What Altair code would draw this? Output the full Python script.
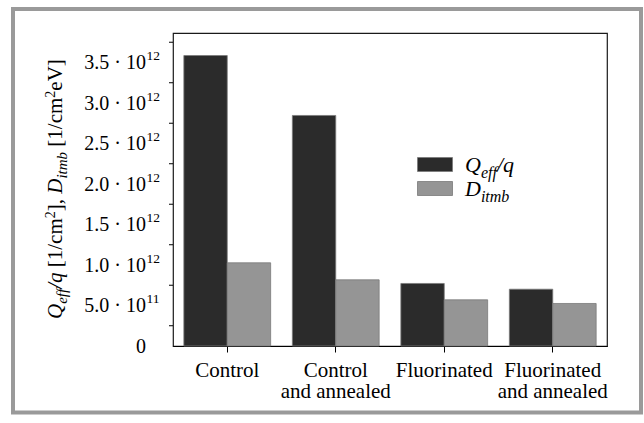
import altair as alt
import pandas as pd

# ---------------- data ----------------
categories = ["Control", "Control\nand annealed", "Fluorinated", "Fluorinated\nand annealed"]
series = ["Qeff/q", "Ditmb"]
q_values = [3.586e12, 2.846e12, 0.772e12, 0.701e12]
d_values = [1.027e12, 0.817e12, 0.570e12, 0.525e12]

major_ticks = [0, 5e11, 1e12, 1.5e12, 2e12, 2.5e12, 3e12, 3.5e12]
major_base = ["0", "5.0 · 10", "1.0 · 10", "1.5 · 10", "2.0 · 10", "2.5 · 10", "3.0 · 10", "3.5 · 10"]
major_exp = ["", "11", "12", "12", "12", "12", "12", "12"]
minor_ticks = [2.5e11, 7.5e11, 1.25e12, 1.75e12, 2.25e12, 2.75e12, 3.25e12, 3.75e12]
y_max = 3.864e12

# ---------------- style ----------------
SERIF = "Liberation Serif"
OX, OY = 173, 33          # plot origin in page pixels
W, H = 434, 313
DARK, GRAY = "#2b2b2b", "#959595"

# Times advance widths (em)
RM = {' ': 0.25, '[': 0.333, ']': 0.333, '1': 0.5, '2': 0.5, '/': 0.278, 'c': 0.444,
      'm': 0.778, ',': 0.25, 'e': 0.444, 'V': 0.722}
IT = {' ': 0.25, 'Q': 0.722, 'e': 0.444, 'f': 0.278, '/': 0.278, 'q': 0.5, 'D': 0.722,
      'i': 0.278, 't': 0.278, 'm': 0.722, 'b': 0.5}

dummy = pd.DataFrame({"a": [0]})


def seg_layers(segs, x0, y0, angle):
    """Rich-text made of consecutive text runs (absolute page coords)."""
    layers = []
    pos = 0.0
    for text, italic, size, shift in segs:
        widths = IT if italic else RM
        stripped = text.strip(" ")
        lead = len(text) - len(text.lstrip(" "))
        trail = len(text) - len(text.rstrip(" "))
        pos += lead * widths[' '] * size
        if angle == 270:
            x, y = x0 + shift, y0 - pos
        else:
            x, y = x0 + pos, y0 + shift
        layers.append(
            alt.Chart(dummy).mark_text(
                text=stripped, font=SERIF, fontSize=size,
                fontStyle="italic" if italic else "normal",
                align="left", baseline="alphabetic", angle=angle, color="black",
            ).encode(x=alt.value(x - OX), y=alt.value(y - OY))
        )
        pos += sum(widths[c] for c in stripped) * size + trail * widths[' '] * size
    return layers


yscale = alt.Scale(domain=[0, y_max], nice=False, zero=True)

bars_df = pd.DataFrame({
    "category": categories * 2,
    "series": [series[0]] * 4 + [series[1]] * 4,
    "value": q_values + d_values,
})

frame = alt.Chart(dummy).mark_rect(fillOpacity=0, stroke="#9a9a9a", strokeWidth=4).encode(
    x=alt.value(13 - OX), x2=alt.value(641 - OX), y=alt.value(9 - OY), y2=alt.value(412.5 - OY)
)

bars = alt.Chart(bars_df).mark_bar(stroke="#7a7a7a", strokeWidth=0.8).encode(
    x=alt.X("category:N", sort=categories,
            scale=alt.Scale(paddingInner=0.2, paddingOuter=0.1),
            axis=alt.Axis(title=None, labelExpr="split(datum.label, '\\n')", labelAngle=0,
                          tickSize=6, labelPadding=7, labelFontSize=21, labelLineHeight=21,
                          labelFont=SERIF, labelColor="black", tickColor="black",
                          domainColor="black", labelBaseline="top", labelOverlap=False)),
    xOffset=alt.XOffset("series:N", sort=series, scale=alt.Scale(paddingInner=0, paddingOuter=0)),
    y=alt.Y("value:Q", scale=yscale,
            axis=alt.Axis(title=None, values=major_ticks, labels=False, tickSize=7, grid=False,
                          domainColor="black", tickColor="black")),
    color=alt.Color("series:N", scale=alt.Scale(domain=series, range=[DARK, GRAY]), legend=None),
)

minor = alt.Chart(pd.DataFrame({"v": minor_ticks})).mark_rule(color="black").encode(
    y=alt.Y("v:Q", scale=yscale, axis=None), x=alt.value(-4), x2=alt.value(0)
)

ylab_df = pd.DataFrame({"v": major_ticks, "base": major_base, "exp": major_exp})
ylab = alt.Chart(ylab_df).mark_text(align="right", baseline="alphabetic", font=SERIF,
                                    fontSize=20, dy=6.8, color="black").encode(
    y=alt.Y("v:Q", scale=yscale, axis=None), x=alt.value(146 - OX), text="base:N"
)
yexp = alt.Chart(ylab_df).mark_text(align="left", baseline="alphabetic", font=SERIF,
                                    fontSize=13.5, dy=-2.2, color="black").encode(
    y=alt.Y("v:Q", scale=yscale, axis=None), x=alt.value(146.5 - OX), text="exp:N"
)

title_segs = [
    ("Q", True, 21, 0), ("eff", True, 15, 5), ("/", True, 21, 0), ("q", True, 21, 0),
    (" [1/cm", False, 21, 0), ("2", False, 14, -7), ("], ", False, 21, 0),
    ("D", True, 21, 0), ("itmb", True, 15, 5), (" [1/cm", False, 21, 0),
    ("2", False, 14, -7), ("eV]", False, 21, 0),
]
title_layers = seg_layers(title_segs, 62, 319, 270)

leg_sw1 = alt.Chart(dummy).mark_rect(color=DARK, stroke="#7a7a7a", strokeWidth=0.8).encode(
    x=alt.value(417.5 - OX), x2=alt.value(452.5 - OX), y=alt.value(157.5 - OY), y2=alt.value(171.5 - OY)
)
leg_sw2 = alt.Chart(dummy).mark_rect(color=GRAY, stroke="#7a7a7a", strokeWidth=0.8).encode(
    x=alt.value(417.5 - OX), x2=alt.value(452.5 - OX), y=alt.value(181.5 - OY), y2=alt.value(195.5 - OY)
)
leg_t1 = seg_layers([("Q", True, 22, 0), ("eff", True, 16, 6), ("/", True, 22, 0), ("q", True, 22, 0)],
                    465, 171.5, 0)
leg_t2 = seg_layers([("D", True, 22, 0), ("itmb", True, 16, 6)], 465, 195.5, 0)

chart = alt.layer(
    frame, bars, minor, ylab, yexp, *title_layers, leg_sw1, leg_sw2, *leg_t1, *leg_t2
).properties(
    width=W, height=H,
    autosize=alt.AutoSizeParams(type="none"),
    padding={"left": OX, "top": OY, "right": 644 - OX - W, "bottom": 423 - OY - H},
    background="white",
).configure_view(stroke="#1a1a1a", strokeWidth=1.2)

chart.save("out.html", embed_options={"renderer": "svg", "actions": False})
